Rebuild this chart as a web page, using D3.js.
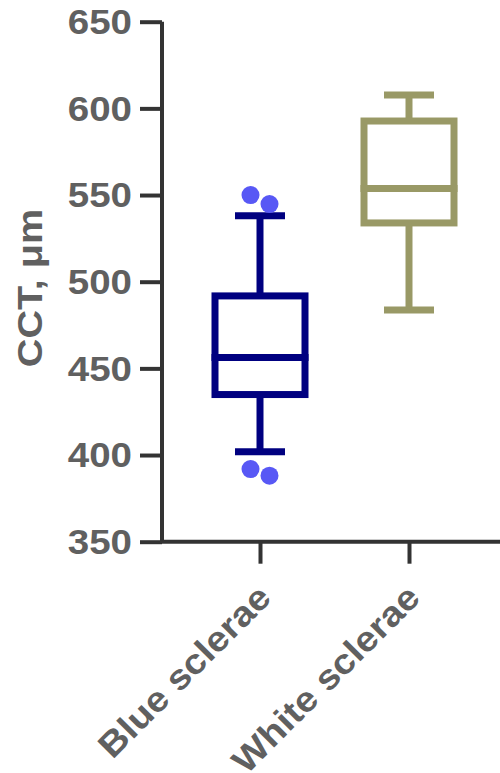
<!DOCTYPE html>
<html><head><meta charset="utf-8">
<script src="https://cdn.jsdelivr.net/npm/d3@7"></script>
<style>
html,body{margin:0;padding:0;background:#fff;}
text{font-family:"Liberation Sans",Arial,sans-serif;font-weight:bold;fill:#606060;}
</style></head>
<body><svg id="c" width="500" height="773"></svg>
<script>
const categories = ["Blue sclerae", "White sclerae"];
const whiskerLow  = [401.9, 483.7];
const q1          = [434.9, 533.9];
const median      = [456.2, 553.7];
const q3          = [491.8, 592.7];
const whiskerHigh = [538.1, 607.7];
const outliers    = [[550.0, 544.8, 391.9, 388.1], []];
const outlierOffsets = [[-1, 1, -1, 1], []];
const yTicks = [350, 400, 450, 500, 550, 600, 650];
const colors = ["#000080", "#999966"];
const dotColor = "#5858F5";

const svg = d3.select("#c");
const y = d3.scaleLinear().domain([350, 650]).range([541.7, 21.7]);
const x = d3.scalePoint().domain(categories).range([260, 409]);
const axisX = 162;
const axisColor = "#333333";

// y axis
const yAxis = d3.axisLeft(y).tickValues(yTicks).tickSize(22).tickPadding(8).tickFormat(d3.format("d"));
const gy = svg.append("g").attr("transform", `translate(${axisX},0)`).call(yAxis);
gy.select(".domain").attr("stroke", axisColor).attr("stroke-width", 4).attr("d", `M0,${y(650)}V${y(350)}`);
gy.selectAll(".tick line").attr("stroke", axisColor).attr("stroke-width", 4);
gy.selectAll(".tick text").each(function(){
  const t = d3.select(this);
  const xx = +t.attr("x");
  t.attr("x", null).attr("dy", null)
   .attr("dominant-baseline", "central")
   .attr("transform", `translate(${xx},0) scale(1.1,1)`)
   .style("font-size", "35px").attr("fill", "#606060");
});

// x axis
const xAxis = d3.axisBottom(x).tickSize(22).tickFormat("");
const gx = svg.append("g").attr("transform", `translate(0,${y(350)})`).call(xAxis);
gx.select(".domain").attr("stroke", axisColor).attr("stroke-width", 4).attr("d", `M${axisX - 2},0H500`);
gx.selectAll(".tick line").attr("stroke", axisColor).attr("stroke-width", 4);
categories.forEach(c => {
  svg.append("text")
    .attr("transform", `translate(${x(c) + 13},${y(350) + 58}) rotate(-45) scale(1.1,1)`)
    .attr("text-anchor", "end")
    .style("font-size", "35px")
    .text(c);
});

// y label
svg.append("text")
  .attr("transform", `translate(42,288) rotate(-90) scale(1.1,1)`)
  .attr("text-anchor", "middle")
  .style("font-size", "36px")
  .text("CCT, μm");

// boxes
const boxW = 90, capW = 50, sw = 7;
categories.forEach((c, i) => {
  const cx = x(c);
  const g = svg.append("g").attr("stroke", colors[i]).attr("stroke-width", sw).attr("fill", "none");
  g.append("line").attr("x1", cx).attr("x2", cx).attr("y1", y(whiskerHigh[i])).attr("y2", y(q3[i]));
  g.append("line").attr("x1", cx).attr("x2", cx).attr("y1", y(q1[i])).attr("y2", y(whiskerLow[i]));
  g.append("line").attr("x1", cx - capW/2).attr("x2", cx + capW/2).attr("y1", y(whiskerHigh[i])).attr("y2", y(whiskerHigh[i]));
  g.append("line").attr("x1", cx - capW/2).attr("x2", cx + capW/2).attr("y1", y(whiskerLow[i])).attr("y2", y(whiskerLow[i]));
  g.append("rect").attr("x", cx - boxW/2).attr("width", boxW).attr("y", y(q3[i])).attr("height", y(q1[i]) - y(q3[i]));
  g.append("line").attr("x1", cx - boxW/2 - sw/2).attr("x2", cx + boxW/2 + sw/2).attr("y1", y(median[i])).attr("y2", y(median[i]));
  outliers[i].forEach((v, j) => {
    svg.append("circle").attr("cx", cx + outlierOffsets[i][j] * 9.5).attr("cy", y(v)).attr("r", 9).attr("fill", dotColor);
  });
});
</script></body></html>
